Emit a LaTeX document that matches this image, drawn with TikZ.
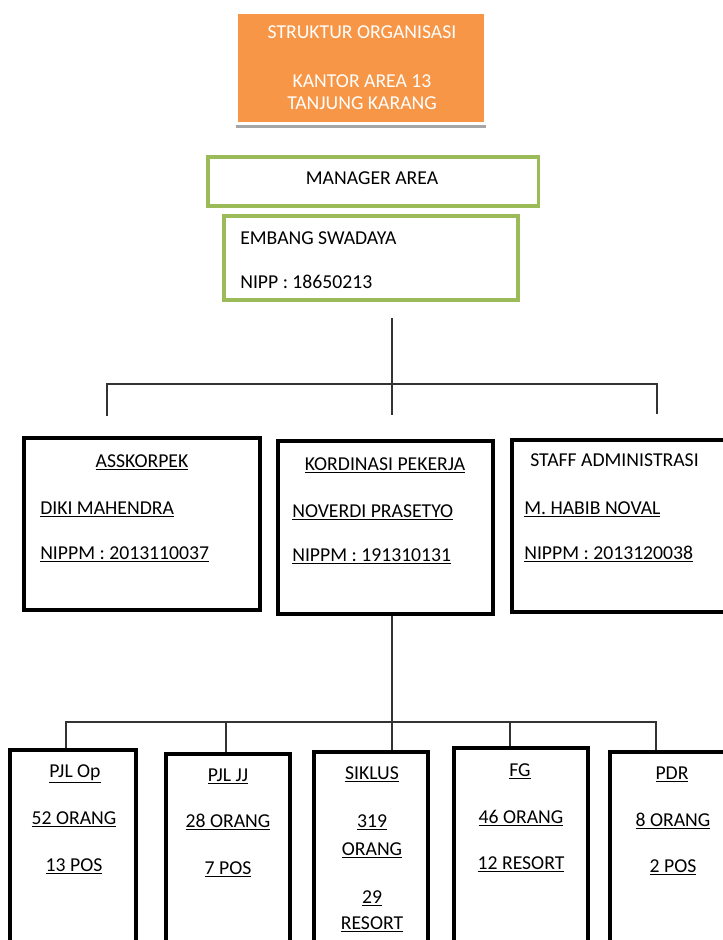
\documentclass[tikz,border=0pt]{standalone}
\usepackage{fontspec}
\setmainfont{Carlito}
\definecolor{titleorange}{HTML}{F79646}
\definecolor{framegreen}{HTML}{9BBB59}
\begin{document}
\begin{tikzpicture}[x=0.025cm,y=-0.025cm]
		\tikzset{orangebox/.style = {shape=rectangle, fill=titleorange, draw=none}}
		\tikzset{greenbox/.style = {shape=rectangle, draw=framegreen, line width=2.2pt}}
		\tikzset{blackbox/.style = {shape=rectangle, draw=black, line width=2.4pt}}
		\tikzset{txt/.style = {inner sep=0pt, anchor=base, font=\fontsize{14}{17}\selectfont}}
		\tikzset{ltxt/.style = {txt, anchor=base west}}
		\tikzset{link/.style = {draw=black!80, line width=0.9pt}}

		\useasboundingbox (0,0) rectangle (723,940);
		\clip (0,0) rectangle (723,940);

		% judul
		\node[orangebox, minimum width=6.15cm, minimum height=2.7cm] (title) at (361,68) {};
		\draw[gray!70, line width=2pt] ([xshift=-1.5pt,yshift=-3pt]title.south west) -- ([xshift=1.5pt,yshift=-3pt]title.south east);
		\node[txt, white] (t1) at (362,38.5) {STRUKTUR ORGANISASI};
		\node[txt, white] (t2) at (362,87) {KANTOR AREA 13};
		\node[txt, white] (t3) at (362,109.5) {TANJUNG KARANG};

		% manager
		\node[greenbox, minimum width=8.25cm, minimum height=1.225cm] (mgr) at (373,181.5) {};
		\node[txt] (mgrtxt) at (372,184.5) {MANAGER AREA};
		\node[greenbox, minimum width=7.35cm, minimum height=2.1cm] (embang) at (371,258) {};
		\node[ltxt] (embname) at (240,244.5) {EMBANG SWADAYA};
		\node[ltxt] (embnip) at (240,288.5) {NIPP : 18650213};

		% tingkat 2
		\node[blackbox, minimum width=5.9cm, minimum height=4.3cm] (ask) at (142,524) {};
		\node[txt] (askhead) at (142,467) {\underline{ASSKORPEK}};
		\node[ltxt] (askname) at (40,514) {\underline{DIKI MAHENDRA}};
		\node[ltxt] (asknip) at (40,559.5) {\underline{NIPPM : 2013110037}};

		\node[blackbox, minimum width=5.375cm, minimum height=4.325cm] (kord) at (385.5,527.5) {};
		\node[txt] (kordhead) at (385,470) {\underline{KORDINASI PEKERJA}};
		\node[ltxt] (kordname) at (292,517) {\underline{NOVERDI PRASETYO}};
		\node[ltxt] (kordnip) at (292,561) {\underline{NIPPM : 191310131}};

		\node[blackbox, minimum width=5.75cm, minimum height=4.3cm] (staff) at (627,526) {};
		\node[ltxt] (staffhead) at (530,466) {STAFF ADMINISTRASI};
		\node[ltxt] (staffname) at (524,514) {\underline{M. HABIB NOVAL}};
		\node[ltxt] (staffnip) at (524,559) {\underline{NIPPM : 2013120038}};

		% tingkat 3
		\node[blackbox, minimum width=3.15cm, minimum height=5.5cm] (pjlop) at (73,860) {};
		\node[txt] (pjlophead) at (75,777) {\underline{PJL Op}};
		\node[txt] (pjlopa) at (74,824) {\underline{52 ORANG}};
		\node[txt] (pjlopb) at (74,871) {\underline{13 POS}};

		\node[blackbox, minimum width=3.1cm, minimum height=5.5cm] (pjljj) at (228,864) {};
		\node[txt] (pjljjhead) at (228,781) {\underline{PJL JJ}};
		\node[txt] (pjljja) at (228,827) {\underline{28 ORANG}};
		\node[txt] (pjljjb) at (228,874) {\underline{7 POS}};

		\node[blackbox, minimum width=2.85cm, minimum height=5.5cm] (siklus) at (371,862) {};
		\node[txt] (siklushead) at (372,779) {\underline{SIKLUS}};
		\node[txt] (siklusa) at (372,827) {\underline{319}};
		\node[txt] (siklusb) at (372,855) {\underline{ORANG}};
		\node[txt] (siklusc) at (372,903) {\underline{29}};
		\node[txt] (siklusd) at (372,929) {\underline{RESORT}};

		\node[blackbox, minimum width=3.35cm, minimum height=5.5cm] (fg) at (521,858) {};
		\node[txt] (fghead) at (520,776) {\underline{FG}};
		\node[txt] (fga) at (521,823) {\underline{46 ORANG}};
		\node[txt] (fgb) at (521,869) {\underline{12 RESORT}};

		\node[blackbox, minimum width=3.125cm, minimum height=5.5cm] (pdr) at (672.5,862) {};
		\node[txt] (pdrhead) at (672,779) {\underline{PDR}};
		\node[txt] (pdra) at (673,826) {\underline{8 ORANG}};
		\node[txt] (pdrb) at (673,872) {\underline{2 POS}};

		% garis atas
		\coordinate (mtop) at (392,318);
		\coordinate (mend) at (392,415);
		\coordinate (lhub) at (107,384);
		\coordinate (lend) at (107,416);
		\coordinate (rhub) at (657,384);
		\coordinate (rend) at (657,414);
		\draw[link] (mtop) -- (mend);
		\draw[link] (lend) -- (lhub) -- (rhub) -- (rend);

		% garis bawah
		\coordinate (bspine) at (392,722);
		\coordinate (b1) at (66,722);
		\coordinate (b2) at (226,722);
		\coordinate (b4) at (510,722);
		\coordinate (b5) at (656,722);
		\draw[link] (kord.south -| bspine) -- (siklus.north -| bspine);
		\draw[link] (b1 |- pjlop.north) -- (b1) -- (b5) -- (b5 |- pdr.north);
		\draw[link] (b2) -- (b2 |- pjljj.north);
		\draw[link] (b4) -- (b4 |- fg.north);

	\end{tikzpicture}
\end{document}
